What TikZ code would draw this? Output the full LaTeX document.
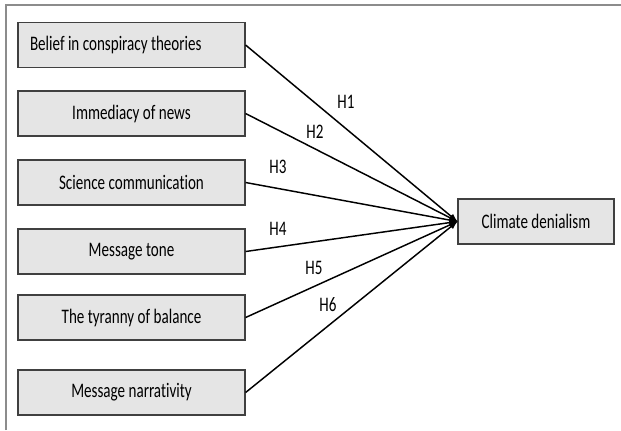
\documentclass[tikz,border=0pt]{standalone}
\usepackage{fontspec}
\setmainfont{Carlito}[FakeStretch=0.73,Ligatures=NoCommon]

\begin{document}
\begin{tikzpicture}[x=0.75pt,y=-0.75pt,font=\fontsize{15.5}{18}\selectfont,factor/.style={draw=black!75,fill=black!10,line width=0.9pt,minimum width=170.25pt,minimum height=33.75pt,inner sep=0pt},outcome/.style={draw=black!75,fill=black!10,line width=0.9pt,minimum width=117pt,minimum height=33.75pt,inner sep=0pt},path/.style={line width=1.1pt,-latex},hyp/.style={inner sep=0pt}]
\useasboundingbox (0,0) rectangle (621,430);
\draw[black!45,line width=1.5pt] (6,430) -- (6,5) -- (621,5);
\node[factor,align=flush left,text width=152.25pt,inner xsep=9pt] (belief) at (131.5,45){Belief in conspiracy theories};
\node[factor] (immediacy) at (131.5,113.5){Immediacy of news};
\node[factor] (science) at (131.5,182.5){Science communication};
\node[factor] (tone) at (131.5,251.5){Message tone};
\node[factor] (tyranny) at (131.5,317.5){The tyranny of balance};
\node[factor] (narrativity) at (131.5,392.5){Message narrativity};
\node[outcome] (denial) at (536,221.5){Climate denialism};
\draw[path] (belief.east) -- (denial.west);
\draw[path] (immediacy.east) -- (denial.west);
\draw[path] (science.east) -- (denial.west);
\draw[path] (tone.east) -- (denial.west);
\draw[path] (tyranny.east) -- (denial.west);
\draw[path] (narrativity.east) -- (denial.west);
\node[hyp] (h1) at (346,102){H1};
\node[hyp] (h2) at (315,132){H2};
\node[hyp] (h3) at (278,167){H3};
\node[hyp] (h4) at (278,229){H4};
\node[hyp] (h5) at (314,268){H5};
\node[hyp] (h6) at (328,305){H6};
\end{tikzpicture}
\end{document}
